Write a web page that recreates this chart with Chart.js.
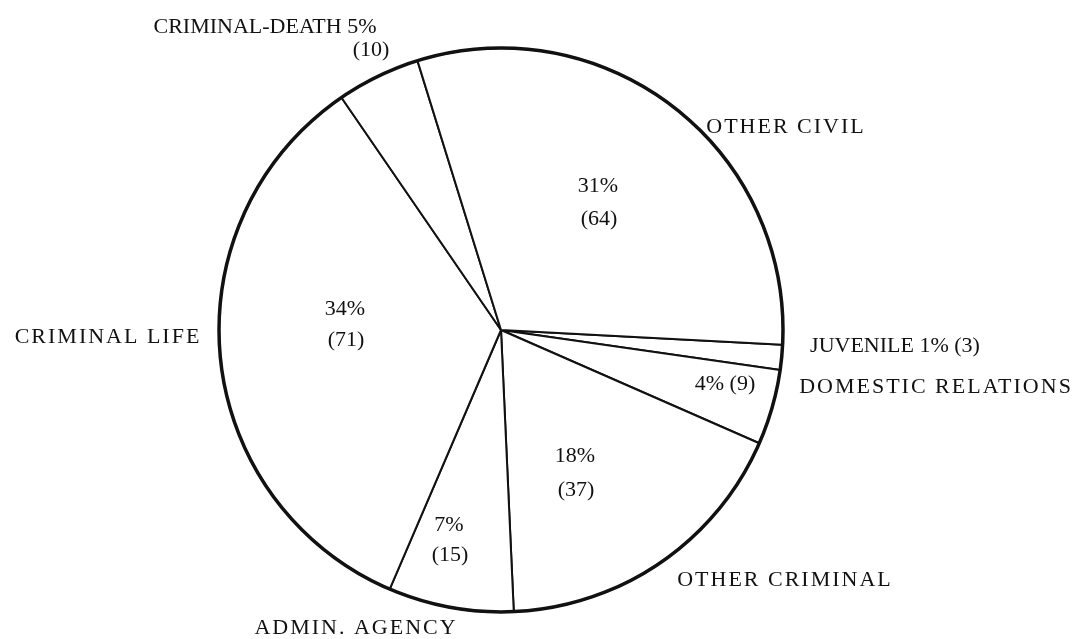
<!DOCTYPE html>
<html>
<head>
<meta charset="utf-8">
<script src="https://cdn.jsdelivr.net/npm/chart.js@4/dist/chart.umd.min.js"></script>
<style>
  html, body { margin: 0; padding: 0; background: #ffffff; }
  #wrap { width: 1083px; height: 639px; position: relative; }
</style>
</head>
<body>
<div id="wrap"><canvas id="c" width="1083" height="639"></canvas></div>
<script>
// ---- data (clockwise from 3 o'clock) ----
const categories = ['JUVENILE', 'DOMESTIC RELATIONS', 'OTHER CRIMINAL', 'ADMIN. AGENCY', 'CRIMINAL LIFE', 'CRIMINAL-DEATH', 'OTHER CIVIL'];
const counts = [3, 9, 37, 15, 71, 10, 64];
const percents = [1, 4, 18, 7, 34, 5, 31];

// ---- text annotations (layout, not data) ----
const wideFont = '22px "Liberation Serif", "Times New Roman", serif';
const serifFont = '22px "Liberation Serif", "Times New Roman", serif';
const annotations = [
  { text: 'OTHER CIVIL', x: 785, y: 127, font: wideFont, spacing: 2 },
  { text: 'CRIMINAL LIFE', x: 107, y: 337, font: wideFont, spacing: 2 },
  { text: 'DOMESTIC RELATIONS', x: 935, y: 387, font: wideFont, spacing: 2 },
  { text: 'OTHER CRIMINAL', x: 784, y: 580, font: wideFont, spacing: 2 },
  { text: 'ADMIN. AGENCY', x: 355, y: 628, font: wideFont, spacing: 2 },
  { text: 'CRIMINAL-DEATH ' + percents[5] + '%', x: 265, y: 27, font: serifFont, spacing: 0 },
  { text: '(' + counts[5] + ')', x: 371, y: 50, font: serifFont, spacing: 0 },
  { text: 'JUVENILE ' + percents[0] + '% (' + counts[0] + ')', x: 895, y: 346, font: serifFont, spacing: 0 },
  { text: percents[6] + '%', x: 598, y: 186, font: serifFont, spacing: 0 },
  { text: '(' + counts[6] + ')', x: 599, y: 219, font: serifFont, spacing: 0 },
  { text: percents[4] + '%', x: 345, y: 309, font: serifFont, spacing: 0 },
  { text: '(' + counts[4] + ')', x: 346, y: 340, font: serifFont, spacing: 0 },
  { text: percents[1] + '% (' + counts[1] + ')', x: 725, y: 384, font: serifFont, spacing: 0 },
  { text: percents[2] + '%', x: 575, y: 456, font: serifFont, spacing: 0 },
  { text: '(' + counts[2] + ')', x: 576, y: 490, font: serifFont, spacing: 0 },
  { text: percents[3] + '%', x: 449, y: 525, font: serifFont, spacing: 0 },
  { text: '(' + counts[3] + ')', x: 450, y: 555, font: serifFont, spacing: 0 }
];

const outerRing = {
  id: 'outerRing',
  afterDatasetsDraw(chart) {
    const arc = chart.getDatasetMeta(0).data[0];
    if (!arc) return;
    const ctx = chart.ctx;
    ctx.save();
    ctx.beginPath();
    ctx.arc(arc.x, arc.y, arc.outerRadius, 0, Math.PI * 2);
    ctx.lineWidth = 3.5;
    ctx.strokeStyle = '#111111';
    ctx.stroke();
    ctx.restore();
  }
};

const textLabels = {
  id: 'textLabels',
  afterDraw(chart) {
    const ctx = chart.ctx;
    ctx.save();
    ctx.fillStyle = '#111111';
    ctx.textAlign = 'center';
    ctx.textBaseline = 'middle';
    annotations.forEach(a => {
      ctx.font = a.font;
      ctx.letterSpacing = (a.spacing || 0) + 'px';
      ctx.fillText(a.text, a.x + (a.spacing || 0) / 2, a.y);
    });
    ctx.restore();
  }
};

new Chart(document.getElementById('c'), {
  type: 'pie',
  data: {
    labels: categories,
    datasets: [{
      data: counts,
      backgroundColor: '#ffffff',
      borderColor: '#111111',
      borderWidth: 2,
      hoverOffset: 0,
      offset: 0
    }]
  },
  options: {
    responsive: false,
    animation: false,
    devicePixelRatio: 1,
    events: [],
    rotation: 93,
    layout: { padding: { left: 218, right: 299, top: 47, bottom: 26 } },
    plugins: {
      legend: { display: false },
      tooltip: { enabled: false }
    }
  },
  plugins: [outerRing, textLabels]
});
</script>
</body>
</html>
